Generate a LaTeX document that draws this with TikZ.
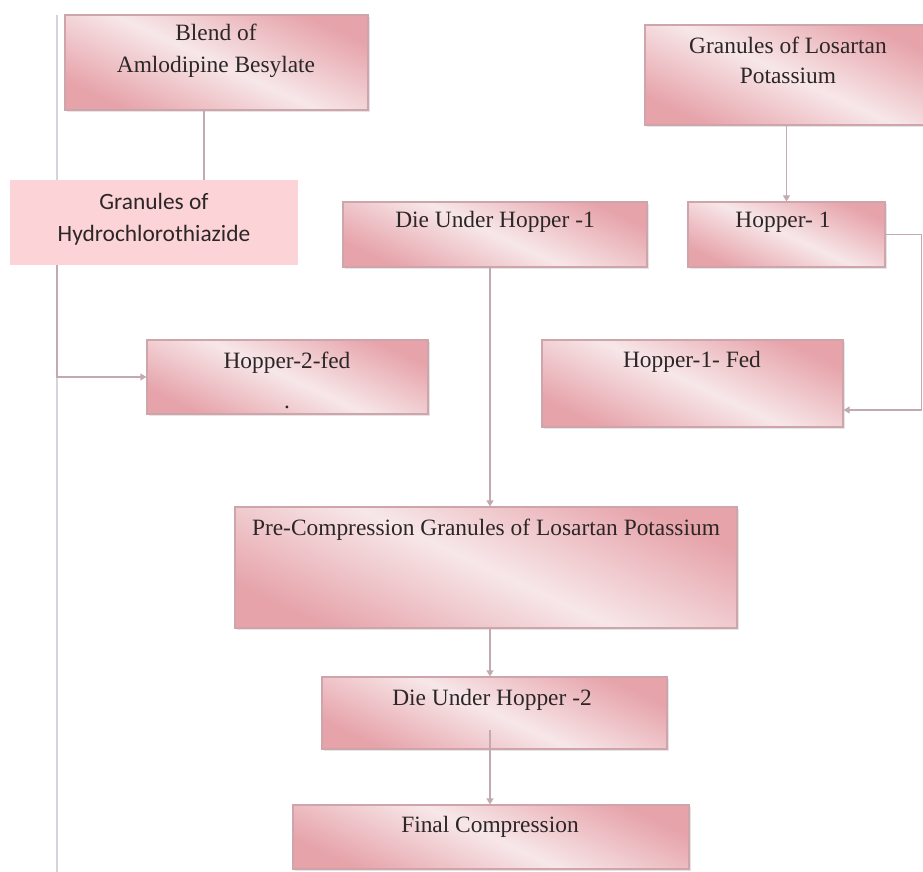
\documentclass[tikz,border=0pt]{standalone}
\usepackage{fontspec}
\setmainfont{Liberation Serif}
\newfontfamily\calibri{Carlito}
\usetikzlibrary{fit,shadows,arrows.meta}

\definecolor{rosedark}{RGB}{230,163,170}
\definecolor{roselight}{RGB}{247,231,233}
\definecolor{roseline}{RGB}{205,165,170}
\definecolor{hctpink}{RGB}{252,212,216}
\definecolor{linkgray}{RGB}{195,170,175}
\definecolor{railgray}{RGB}{210,214,220}
\definecolor{inkgray}{RGB}{45,38,38}

\tikzset{
  box/.style={draw=roseline, line width=0.6pt, inner sep=0pt,
    top color=rosedark, bottom color=rosedark, middle color=roselight,
    shading angle=-25,
    drop shadow={shadow xshift=0.8pt, shadow yshift=-0.8pt, opacity=0.2}},
  flatbox/.style={fill=hctpink, inner sep=0pt},
  txt/.style={text=inkgray, align=center, font=\fontsize{11.7}{16}\selectfont},
  link/.style={draw=linkgray, line width=0.6pt},
  arr/.style={link, -{Triangle[width=3.5pt,length=3pt]}},
  rail/.style={draw=railgray, line width=0.6pt}
}

\begin{document}
\begin{tikzpicture}[x=0.5pt,y=-0.5pt]
\fill[white] (0,0) rectangle (923,872);
\useasboundingbox (0,0) rectangle (923,872);

\coordinate (railtop) at (57,15);
\coordinate (railbot) at (57,872);
\draw[rail] (railtop) -- (railbot);

\node[box, fit={(65,15) (368,110)}] (blend) {};
\node[flatbox, fit={(10,180) (298,265)}] (hct) {};
\node[box, fit={(343,202) (647,267)}] (duh1) {};
\node[box, fit={(645,25) (931,125)}] (losartan) {};
\node[box, fit={(688,202) (885,267)}] (hop1) {};
\node[box, fit={(147,340) (428,414)}] (hop2fed) {};
\node[box, fit={(542,340) (843,427)}] (hop1fed) {};
\node[box, fit={(235,507) (737,628)}] (precomp) {};
\node[box, fit={(322,677) (667,749)}] (duh2) {};
\node[box, fit={(293,805) (689,869)}] (final) {};

\node[txt] (blendtxt) at (216,51) {Blend of\\Amlodipine Besylate};
\node[txt, font=\calibri\fontsize{11.7}{16}\selectfont] (hcttxt) at (154,219) {Granules of\\Hydrochlorothiazide};
\node[txt] (duh1txt) at (495,222) {Die Under Hopper -1};
\node[txt, font=\fontsize{11.7}{15}\selectfont] (losartantxt) at (788,60) {Granules of Losartan\\Potassium};
\node[txt] (hop1txt) at (783,222) {Hopper- 1};
\node[txt] (hop2fedtxt) at (287,380) {Hopper-2-fed\\[4pt].};
\node[txt] (hop1fedtxt) at (692,362) {Hopper-1- Fed};
\node[txt] (precomptxt) at (486,530) {Pre-Compression Granules of Losartan Potassium};
\node[txt] (duh2txt) at (492,700) {Die Under Hopper -2};
\node[txt] (finaltxt) at (490,827) {Final Compression};

\coordinate (xa) at (204,0);
\coordinate (xmid) at (490,0);
\coordinate (rturn) at (921.5,410);
\coordinate (duh2in) at (490,730);

\draw[link] (blend.south -| xa) -- (hct.north -| xa);
\draw[arr] (hct.south -| railtop) |- (hop2fed.west);
\draw[arr] (losartan.south -| hop1) -- (hop1.north);
\draw[arr] (hop1.east) -| (rturn) -- (rturn -| hop1fed.east);
\draw[arr] (duh1.south -| xmid) -- (precomp.north -| xmid);
\draw[arr] (precomp.south -| xmid) -- (duh2.north -| xmid);
\draw[arr] (duh2in) -- (final.north -| xmid);

\end{tikzpicture}
\end{document}
